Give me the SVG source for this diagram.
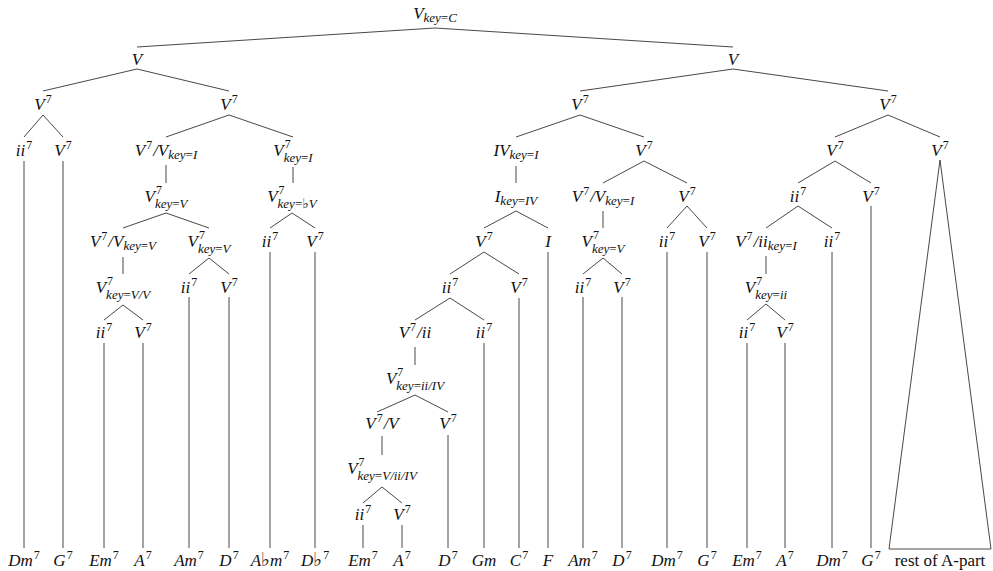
<svg xmlns="http://www.w3.org/2000/svg" width="993" height="571" viewBox="0 0 993 571">
<style>
.t{font-family:"Liberation Serif","DejaVu Serif",serif;font-size:17px;font-style:italic;fill:#111;text-anchor:middle}
.s{font-size:12px;font-style:normal}
.b{font-size:13px}
.r{font-style:normal}
.fl{font-family:"DejaVu Sans","DejaVu Serif",sans-serif;font-style:normal;font-size:19px}
.fs{font-family:"DejaVu Sans","DejaVu Serif",sans-serif;font-style:normal;font-size:14px}
.e line,.e polygon{stroke:#333;stroke-width:0.9;fill:none}
</style>
<rect width="993" height="571" fill="#fff"/>
<g id="edges" class="e">
<line x1="435" y1="28" x2="137" y2="47"/><line x1="435" y1="28" x2="733" y2="47"/>
<line x1="137" y1="69" x2="43" y2="91"/><line x1="137" y1="69" x2="229" y2="91"/>
<line x1="733" y1="69" x2="580" y2="91"/><line x1="733" y1="69" x2="888" y2="91"/>
<line x1="43" y1="115" x2="24" y2="137"/><line x1="43" y1="115" x2="63" y2="137"/>
<line x1="229" y1="115" x2="166" y2="137"/><line x1="229" y1="115" x2="293" y2="137"/>
<line x1="580" y1="115" x2="516" y2="137"/><line x1="580" y1="115" x2="644" y2="137"/>
<line x1="888" y1="115" x2="835" y2="137"/><line x1="888" y1="115" x2="940" y2="137"/>
<line x1="24" y1="161" x2="24" y2="548"/><line x1="63" y1="161" x2="63" y2="548"/>
<line x1="166" y1="165" x2="166" y2="183"/>
<line x1="293" y1="167" x2="293" y2="183"/>
<line x1="516" y1="166" x2="516" y2="183"/>
<line x1="644" y1="161" x2="603" y2="183"/><line x1="644" y1="161" x2="687" y2="183"/>
<line x1="835" y1="161" x2="798" y2="183"/><line x1="835" y1="161" x2="871" y2="183"/>
<polygon points="940,160 889,549 991,549"/>
<line x1="166" y1="213" x2="123" y2="228"/><line x1="166" y1="213" x2="209" y2="228"/>
<line x1="292" y1="213" x2="270" y2="228"/><line x1="292" y1="213" x2="315" y2="228"/>
<line x1="516" y1="211" x2="484" y2="228"/><line x1="516" y1="211" x2="548" y2="228"/>
<line x1="603" y1="211" x2="603" y2="228"/>
<line x1="687" y1="206" x2="667" y2="228"/><line x1="687" y1="206" x2="707" y2="228"/>
<line x1="798" y1="206" x2="766" y2="228"/><line x1="798" y1="206" x2="832" y2="228"/>
<line x1="871" y1="206" x2="871" y2="548"/>
<line x1="123" y1="257" x2="123" y2="274"/>
<line x1="209" y1="258" x2="189" y2="274"/><line x1="209" y1="258" x2="229" y2="274"/>
<line x1="270" y1="252" x2="270" y2="548"/><line x1="315" y1="252" x2="315" y2="548"/>
<line x1="484" y1="252" x2="450" y2="274"/><line x1="484" y1="252" x2="519" y2="274"/>
<line x1="548" y1="252" x2="548" y2="548"/>
<line x1="603" y1="258" x2="583" y2="274"/><line x1="603" y1="258" x2="622" y2="274"/>
<line x1="667" y1="252" x2="667" y2="548"/><line x1="707" y1="252" x2="707" y2="548"/>
<line x1="766" y1="256" x2="766" y2="274"/>
<line x1="832" y1="252" x2="832" y2="548"/>
<line x1="123" y1="305" x2="104" y2="320"/><line x1="123" y1="305" x2="143" y2="320"/>
<line x1="189" y1="297" x2="189" y2="548"/><line x1="229" y1="297" x2="229" y2="548"/>
<line x1="450" y1="298" x2="415" y2="320"/><line x1="450" y1="298" x2="484" y2="320"/>
<line x1="519" y1="298" x2="519" y2="548"/>
<line x1="583" y1="297" x2="583" y2="548"/><line x1="622" y1="297" x2="622" y2="548"/>
<line x1="766" y1="304" x2="747" y2="320"/><line x1="766" y1="304" x2="785" y2="320"/>
<line x1="104" y1="343" x2="104" y2="548"/><line x1="143" y1="343" x2="143" y2="548"/>
<line x1="415" y1="347" x2="415" y2="365"/>
<line x1="484" y1="343" x2="484" y2="548"/>
<line x1="747" y1="343" x2="747" y2="548"/><line x1="785" y1="343" x2="785" y2="548"/>
<line x1="415" y1="395" x2="377" y2="412"/><line x1="415" y1="395" x2="448" y2="412"/>
<line x1="382" y1="436" x2="382" y2="455"/>
<line x1="448" y1="435" x2="448" y2="548"/>
<line x1="382" y1="487" x2="363" y2="503"/><line x1="382" y1="487" x2="402" y2="503"/>
<line x1="363" y1="525" x2="363" y2="548"/><line x1="402" y1="525" x2="402" y2="548"/>
</g>
<g id="n-root"><text class="t" x="435" y="19">V<tspan class="b" dy="3">key</tspan><tspan class="b r">=</tspan><tspan class="b">C</tspan></text></g>
<g id="n-VL"><text class="t" x="137" y="65">V</text></g>
<g id="n-VR"><text class="t" x="733" y="65">V</text></g>
<g id="n-a"><text class="t" x="43" y="110">V<tspan class="s" dx="1" dy="-7">7</tspan></text></g>
<g id="n-b"><text class="t" x="229" y="110">V<tspan class="s" dx="1" dy="-7">7</tspan></text></g>
<g id="n-c"><text class="t" x="580" y="110">V<tspan class="s" dx="1" dy="-7">7</tspan></text></g>
<g id="n-d"><text class="t" x="888" y="110">V<tspan class="s" dx="1" dy="-7">7</tspan></text></g>
<g id="n-a1"><text class="t" x="24" y="156">ii<tspan class="s" dx="1" dy="-7">7</tspan></text></g>
<g id="n-a2"><text class="t" x="63" y="156">V<tspan class="s" dx="1" dy="-7">7</tspan></text></g>
<g id="n-b1"><text class="t" x="166" y="156">V<tspan class="s" dx="1" dy="-7">7</tspan><tspan dx="1" dy="7">/V</tspan><tspan class="b" dy="3">key</tspan><tspan class="b r">=</tspan><tspan class="b">I</tspan></text></g>
<g id="n-b2"><text class="t" x="293" y="156">V<tspan class="s" dx="1" dy="-8.5">7</tspan><tspan class="b" dx="-7" dy="14">key</tspan><tspan class="b r">=</tspan><tspan class="b">I</tspan></text></g>
<g id="n-c1"><text class="t" x="516" y="156">IV<tspan class="b" dy="3">key</tspan><tspan class="b r">=</tspan><tspan class="b">I</tspan></text></g>
<g id="n-c2"><text class="t" x="644" y="156">V<tspan class="s" dx="1" dy="-7">7</tspan></text></g>
<g id="n-d1"><text class="t" x="835" y="156">V<tspan class="s" dx="1" dy="-7">7</tspan></text></g>
<g id="n-d2"><text class="t" x="940" y="156">V<tspan class="s" dx="1" dy="-7">7</tspan></text></g>
<g id="n-b1a"><text class="t" x="166" y="202">V<tspan class="s" dx="1" dy="-8.5">7</tspan><tspan class="b" dx="-7" dy="14">key</tspan><tspan class="b r">=</tspan><tspan class="b">V</tspan></text></g>
<g id="n-b2a"><text class="t" x="292" y="202">V<tspan class="s" dx="1" dy="-8.5">7</tspan><tspan class="b" dx="-7" dy="14">key</tspan><tspan class="b r">=</tspan><tspan class="fs">♭</tspan><tspan class="b">V</tspan></text></g>
<g id="n-c1a"><text class="t" x="516" y="202">I<tspan class="b" dy="3">key</tspan><tspan class="b r">=</tspan><tspan class="b">IV</tspan></text></g>
<g id="n-c2a"><text class="t" x="603" y="202">V<tspan class="s" dx="1" dy="-7">7</tspan><tspan dx="1" dy="7">/V</tspan><tspan class="b" dy="3">key</tspan><tspan class="b r">=</tspan><tspan class="b">I</tspan></text></g>
<g id="n-c2b"><text class="t" x="687" y="202">V<tspan class="s" dx="1" dy="-7">7</tspan></text></g>
<g id="n-d1a"><text class="t" x="798" y="202">ii<tspan class="s" dx="1" dy="-7">7</tspan></text></g>
<g id="n-d1b"><text class="t" x="871" y="202">V<tspan class="s" dx="1" dy="-7">7</tspan></text></g>
<g id="n-r5a"><text class="t" x="123" y="247">V<tspan class="s" dx="1" dy="-7">7</tspan><tspan dx="1" dy="7">/V</tspan><tspan class="b" dy="3">key</tspan><tspan class="b r">=</tspan><tspan class="b">V</tspan></text></g>
<g id="n-r5b"><text class="t" x="209" y="247">V<tspan class="s" dx="1" dy="-8.5">7</tspan><tspan class="b" dx="-7" dy="14">key</tspan><tspan class="b r">=</tspan><tspan class="b">V</tspan></text></g>
<g id="n-r5c"><text class="t" x="270" y="247">ii<tspan class="s" dx="1" dy="-7">7</tspan></text></g>
<g id="n-r5d"><text class="t" x="315" y="247">V<tspan class="s" dx="1" dy="-7">7</tspan></text></g>
<g id="n-r5e"><text class="t" x="484" y="247">V<tspan class="s" dx="1" dy="-7">7</tspan></text></g>
<g id="n-r5f"><text class="t" x="548" y="247">I</text></g>
<g id="n-r5g"><text class="t" x="603" y="247">V<tspan class="s" dx="1" dy="-8.5">7</tspan><tspan class="b" dx="-7" dy="14">key</tspan><tspan class="b r">=</tspan><tspan class="b">V</tspan></text></g>
<g id="n-r5h"><text class="t" x="667" y="247">ii<tspan class="s" dx="1" dy="-7">7</tspan></text></g>
<g id="n-r5i"><text class="t" x="707" y="247">V<tspan class="s" dx="1" dy="-7">7</tspan></text></g>
<g id="n-r5j"><text class="t" x="766" y="247">V<tspan class="s" dx="1" dy="-7">7</tspan><tspan dx="1" dy="7">/ii</tspan><tspan class="b" dy="3">key</tspan><tspan class="b r">=</tspan><tspan class="b">I</tspan></text></g>
<g id="n-r5k"><text class="t" x="832" y="247">ii<tspan class="s" dx="1" dy="-7">7</tspan></text></g>
<g id="n-r6a"><text class="t" x="123" y="293">V<tspan class="s" dx="1" dy="-8.5">7</tspan><tspan class="b" dx="-7" dy="14">key</tspan><tspan class="b r">=</tspan><tspan class="b">V/V</tspan></text></g>
<g id="n-r6b"><text class="t" x="189" y="293">ii<tspan class="s" dx="1" dy="-7">7</tspan></text></g>
<g id="n-r6c"><text class="t" x="229" y="293">V<tspan class="s" dx="1" dy="-7">7</tspan></text></g>
<g id="n-r6d"><text class="t" x="450" y="293">ii<tspan class="s" dx="1" dy="-7">7</tspan></text></g>
<g id="n-r6e"><text class="t" x="519" y="293">V<tspan class="s" dx="1" dy="-7">7</tspan></text></g>
<g id="n-r6f"><text class="t" x="583" y="293">ii<tspan class="s" dx="1" dy="-7">7</tspan></text></g>
<g id="n-r6g"><text class="t" x="622" y="293">V<tspan class="s" dx="1" dy="-7">7</tspan></text></g>
<g id="n-r6h"><text class="t" x="766" y="293">V<tspan class="s" dx="1" dy="-8.5">7</tspan><tspan class="b" dx="-7" dy="14">key</tspan><tspan class="b r">=</tspan><tspan class="b">ii</tspan></text></g>
<g id="n-r7a"><text class="t" x="104" y="338">ii<tspan class="s" dx="1" dy="-7">7</tspan></text></g>
<g id="n-r7b"><text class="t" x="143" y="338">V<tspan class="s" dx="1" dy="-7">7</tspan></text></g>
<g id="n-r7c"><text class="t" x="415" y="338">V<tspan class="s" dx="1" dy="-7">7</tspan><tspan dx="1" dy="7">/ii</tspan></text></g>
<g id="n-r7d"><text class="t" x="484" y="338">ii<tspan class="s" dx="1" dy="-7">7</tspan></text></g>
<g id="n-r7e"><text class="t" x="747" y="338">ii<tspan class="s" dx="1" dy="-7">7</tspan></text></g>
<g id="n-r7f"><text class="t" x="785" y="338">V<tspan class="s" dx="1" dy="-7">7</tspan></text></g>
<g id="n-r8a"><text class="t" x="415" y="384">V<tspan class="s" dx="1" dy="-8.5">7</tspan><tspan class="b" dx="-7" dy="14">key</tspan><tspan class="b r">=</tspan><tspan class="b">ii/IV</tspan></text></g>
<g id="n-r9a"><text class="t" x="382" y="429">V<tspan class="s" dx="1" dy="-7">7</tspan><tspan dx="1" dy="7">/V</tspan></text></g>
<g id="n-r9b"><text class="t" x="448" y="429">V<tspan class="s" dx="1" dy="-7">7</tspan></text></g>
<g id="n-r10a"><text class="t" x="382" y="474">V<tspan class="s" dx="1" dy="-8.5">7</tspan><tspan class="b" dx="-7" dy="14">key</tspan><tspan class="b r">=</tspan><tspan class="b">V/ii/IV</tspan></text></g>
<g id="n-r11a"><text class="t" x="363" y="520">ii<tspan class="s" dx="1" dy="-7">7</tspan></text></g>
<g id="n-r11b"><text class="t" x="402" y="520">V<tspan class="s" dx="1" dy="-7">7</tspan></text></g>
<g id="leaves">
<g id="l1"><text class="t" x="24" y="566">Dm<tspan class="s" dx="1" dy="-7">7</tspan></text></g>
<g id="l2"><text class="t" x="63" y="566">G<tspan class="s" dx="1" dy="-7">7</tspan></text></g>
<g id="l3"><text class="t" x="104" y="566">Em<tspan class="s" dx="1" dy="-7">7</tspan></text></g>
<g id="l4"><text class="t" x="143" y="566">A<tspan class="s" dx="1" dy="-7">7</tspan></text></g>
<g id="l5"><text class="t" x="189" y="566">Am<tspan class="s" dx="1" dy="-7">7</tspan></text></g>
<g id="l6"><text class="t" x="229" y="566">D<tspan class="s" dx="1" dy="-7">7</tspan></text></g>
<g id="l7"><text class="t" x="270" y="566">A<tspan class="fl">♭</tspan>m<tspan class="s" dx="1" dy="-7">7</tspan></text></g>
<g id="l8"><text class="t" x="315" y="566">D<tspan class="fl">♭</tspan><tspan class="s" dx="1" dy="-7">7</tspan></text></g>
<g id="l9"><text class="t" x="363" y="566">Em<tspan class="s" dx="1" dy="-7">7</tspan></text></g>
<g id="l10"><text class="t" x="402" y="566">A<tspan class="s" dx="1" dy="-7">7</tspan></text></g>
<g id="l11"><text class="t" x="448" y="566">D<tspan class="s" dx="1" dy="-7">7</tspan></text></g>
<g id="l12"><text class="t" x="484" y="566">Gm</text></g>
<g id="l13"><text class="t" x="519" y="566">C<tspan class="s" dx="1" dy="-7">7</tspan></text></g>
<g id="l14"><text class="t" x="548" y="566">F</text></g>
<g id="l15"><text class="t" x="583" y="566">Am<tspan class="s" dx="1" dy="-7">7</tspan></text></g>
<g id="l16"><text class="t" x="622" y="566">D<tspan class="s" dx="1" dy="-7">7</tspan></text></g>
<g id="l17"><text class="t" x="667" y="566">Dm<tspan class="s" dx="1" dy="-7">7</tspan></text></g>
<g id="l18"><text class="t" x="707" y="566">G<tspan class="s" dx="1" dy="-7">7</tspan></text></g>
<g id="l19"><text class="t" x="747" y="566">Em<tspan class="s" dx="1" dy="-7">7</tspan></text></g>
<g id="l20"><text class="t" x="785" y="566">A<tspan class="s" dx="1" dy="-7">7</tspan></text></g>
<g id="l21"><text class="t" x="832" y="566">Dm<tspan class="s" dx="1" dy="-7">7</tspan></text></g>
<g id="l22"><text class="t" x="871" y="566">G<tspan class="s" dx="1" dy="-7">7</tspan></text></g>
<g id="l23"><text class="t r" x="940" y="566">rest of A-part</text></g>
</g>
</svg>
